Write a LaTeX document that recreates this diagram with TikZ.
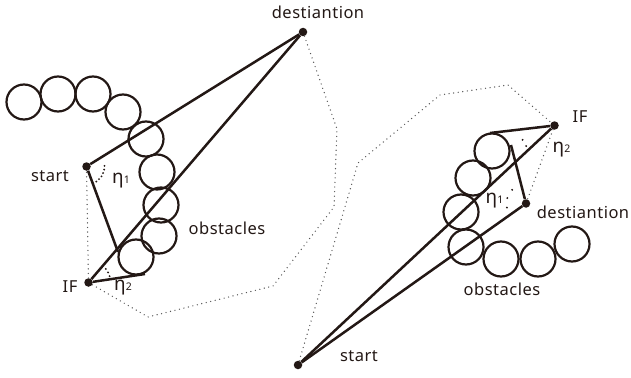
\documentclass[tikz,border=0pt]{standalone}
\usepackage{fontspec}
\setmainfont{Noto Sans}[LetterSpace=3]
\definecolor{inkc}{RGB}{35,24,21}
\definecolor{hullc}{RGB}{85,85,85}
\newcommand\smallidx[1]{{\fontsize{10.5}{10.5}\selectfont #1}}
\newcommand\etaL[1]{{\fontsize{19}{19}\selectfont η}\smallidx{#1}}
\begin{document}
\begin{tikzpicture}[x=1pt,y=-1pt,
  ink/.style={draw=inkc,line width=2.5pt},
  obst/.style={circle,draw=inkc,line width=2.2pt,minimum size=35pt,inner sep=0pt},
  pt/.style={circle,fill=inkc,minimum size=8.5pt,inner sep=0pt},
  hull/.style={draw=hullc,line width=1.4pt,dash pattern=on 0pt off 4.6pt,line cap=round},
  angmark/.style={draw=inkc,line width=2.1pt,line cap=round},
  lab/.style={font=\fontsize{16.5}{16.5}\selectfont,text=inkc,inner sep=0pt}]
\useasboundingbox (0,0) rectangle (631,377);

% ---------- left scene ----------
\foreach \n/\x/\y in {c1/24/102,c2/58/94,c3/93/94,c4/123/112,c5/146/139,c6/157/172,c7/161/205,c8/159/236,c9/136/257}
  \node[obst] (\n) at (\x,\y) {};

\node[pt] (D1) at (303,32) {};
\node[pt] (S1) at (86.5,166.5) {};
\node[pt] (IF1) at (88.5,282.5) {};
\coordinate (T1) at (118,252);
\coordinate (T2) at (145,274);
\coordinate (H1) at (337,129);
\coordinate (H2) at (334,207);
\coordinate (H3) at (273,286);
\coordinate (H4) at (148,317);

\draw[hull] (D1) -- (H1) -- (H2) -- (H3) -- (H4) -- (IF1) -- (S1);
\draw[ink] (S1) -- (D1);
\draw[ink] (IF1) -- (D1);
\draw[ink] (S1) -- (T1);
\draw[ink] (IF1) -- (T2);

\draw[angmark,dash pattern=on 0pt off 3.7pt] ([shift={(-2:18)}]S1.center) arc[start angle=-2,end angle=70,radius=18];
\draw[angmark,dash pattern=on 0pt off 4.1pt] ([shift={(-38:22)}]IF1.center) arc[start angle=-38,end angle=-16,radius=22];

\node[lab] (tD1) at (318,12) {destiantion};
\node[lab] (tS1) at (50,176) {start};
\node[lab] (tO1) at (227,228) {obstacles};
\node[lab] (tIF1) at (70,287) {IF};
\node[lab,anchor=base west] (te11) at (112,183.5) {\etaL{1}};
\node[lab,anchor=base west] (te12) at (114,290.5) {\etaL{2}};

% ---------- right scene ----------
\foreach \n/\x/\y in {r1/492/151,r2/473/178,r3/461/212,r4/466/247,r5/501/259,r6/538/259,r7/572/244}
  \node[obst] (\n) at (\x,\y) {};

\node[pt] (S2) at (298,365) {};
\node[pt] (IF2) at (554.5,125.5) {};
\node[pt] (D2) at (526,203.5) {};
\coordinate (U1) at (490,133);
\coordinate (U2) at (511,145);
\coordinate (G1) at (358,163);
\coordinate (G2) at (440,95);
\coordinate (G3) at (508,85);

\draw[hull] (S2) -- (G1) -- (G2) -- (G3) -- (IF2) -- (D2);
\draw[ink] (S2) -- (IF2);
\draw[ink] (S2) -- (D2);
\draw[ink] (IF2) -- (U1);
\draw[ink] (D2) -- (U2);

\draw[angmark,dash pattern=on 0pt off 9.6pt] ([shift={(168:19.5)}]D2.center) arc[start angle=168,end angle=226,radius=19.5];
\draw[angmark,dash pattern=on 0pt off 7.2pt] ([shift={(144:35)}]IF2.center) arc[start angle=144,end angle=156,radius=35];

\node[lab] (tIF2) at (580,117) {IF};
\node[lab] (tD2) at (583,212.5) {destiantion};
\node[lab] (tO2) at (502,289) {obstacles};
\node[lab] (tS2) at (359,356.5) {start};
\node[lab,anchor=base west] (te21) at (485.5,203.5) {\etaL{1}};
\node[lab,anchor=base west] (te22) at (552.5,152) {\etaL{2}};
\end{tikzpicture}
\end{document}
